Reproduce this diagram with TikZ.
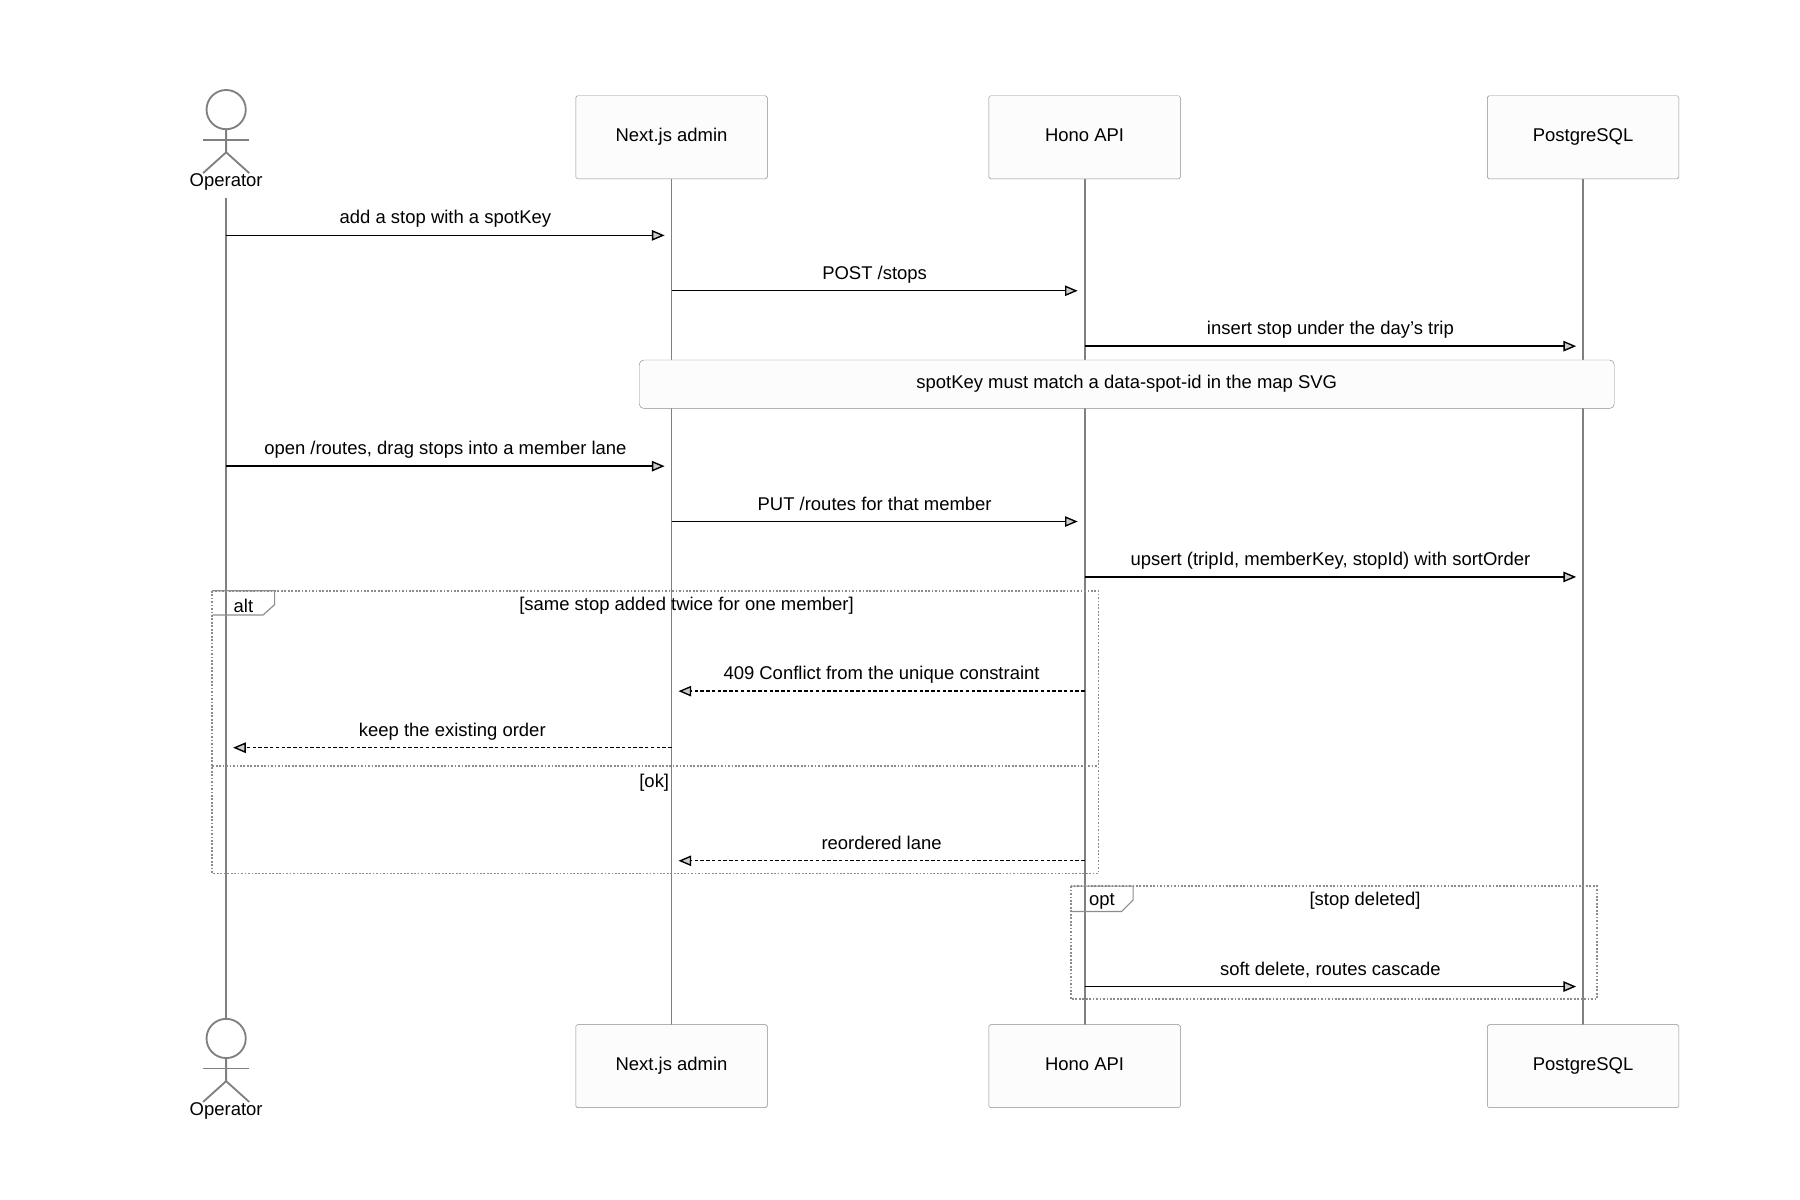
\documentclass[tikz,border=0pt]{standalone}
\usepackage{fontspec}
\setmainfont{Liberation Sans}
\usetikzlibrary{arrows.meta}
\tikzstyle{actbox}=[draw=black!45,fill=black!1,rounded corners=1.5pt,minimum width=166pt,minimum height=72pt,inner sep=0pt,text height=12pt,text depth=4pt]
\tikzstyle{life}=[draw=black!50,line width=1.6pt]
\tikzstyle{msg}=[black,line width=1.2pt,-{Triangle[open,length=11pt,width=9pt,fill=black!20]}]
\tikzstyle{rep}=[msg,dash pattern=on 3pt off 2pt]
\tikzstyle{frame}=[draw=black!45,line width=1.5pt,dash pattern=on 1.5pt off 1.5pt]
\tikzstyle{lbl}=[font=\fontsize{16}{19}\selectfont,inner sep=0pt]
% message: y, x from, x to, text, style
\newcommand{\msgline}[6]{
  \coordinate (#1s) at (#3,-#2);
  \coordinate (#1e) at (#4,-#2);
  \draw[#6] (#1s) -- (#1e);
  \node[lbl,anchor=base] (#1t) at ({(#3+#4)/2},{-#2+10}) {#5};
}
\newcommand{\stick}[2]{
  \node[circle,draw=black!50,line width=1.6pt,minimum size=34pt,inner sep=0pt] (#1h) at (196,-#2) {};
  \coordinate (#1w) at (196,-#2-37);
  \draw[black!50,line width=1.6pt] (#1h.south) -- (#1w) -- (176,-#2-55);
  \draw[black!50,line width=1.6pt] (#1w) -- (216,-#2-55);
  \draw[black!50,line width=1.6pt] (176,-#2-26) -- (216,-#2-26);
  \node[lbl,anchor=base] (#1l) at (196,-#2-67) {Operator};
}
\begin{document}
\begin{tikzpicture}[x=1pt,y=1pt]
  \useasboundingbox (0,0) rectangle (1560,-1040);

  % lifelines
  \foreach \n/\x in {nx/582,ho/940,pg/1372}{
    \coordinate (\n top) at (\x,-155);
    \coordinate (\n bot) at (\x,-888);
    \draw[life] (\n top) -- (\n bot);
  }
  \coordinate (optop) at (196,-172);
  \coordinate (opbot) at (196,-883);
  \draw[life] (optop) -- (opbot);

  % participants
  \foreach \n/\x/\t in {nx/582/Next.js admin,ho/940/Hono API,pg/1372/PostgreSQL}{
    \node[actbox,lbl] (\n A) at (\x,-119) {\t};
    \node[actbox,lbl] (\n B) at (\x,-924) {\t};
  }
  \stick{opA}{95}
  \stick{opB}{900}

  % messages
  \msgline{m1}{204}{196}{576}{add a stop with a spotKey}{msg}
  \msgline{m2}{252}{582}{934}{POST /stops}{msg}
  \msgline{m3}{300}{940}{1366}{insert stop under the day's trip}{msg}

  \node[actbox,lbl,minimum width=845pt,minimum height=42pt,rounded corners=4pt] (note) at (976.5,-333) {spotKey must match a data-spot-id in the map SVG};

  \msgline{m4}{404}{196}{576}{open /routes, drag stops into a member lane}{msg}
  \msgline{m5}{452}{582}{934}{PUT /routes for that member}{msg}
  \msgline{m6}{500}{940}{1366}{upsert (tripId, memberKey, stopId) with sortOrder}{msg}

  % alt
  \draw[frame] (184,-512) rectangle (952,-757);
  \draw[frame] (184,-664) -- (952,-664);
  \draw[draw=black!45,line width=1pt] (184,-512) -- (238,-512) -- (238,-524) -- (228,-533) -- (184,-533);
  \node[lbl] (alt) at (211,-525) {alt};
  \node[lbl] (altc) at (595,-525) {[same stop added twice for one member]};
  \node[lbl] (okc) at (567,-678) {[ok]};
  \msgline{m7}{599}{940}{588}{409 Conflict from the unique constraint}{rep}
  \msgline{m8}{648}{582}{202}{keep the existing order}{rep}
  \msgline{m9}{746}{940}{588}{reordered lane}{rep}

  % opt
  \draw[frame] (928,-768) rectangle (1384,-866);
  \draw[draw=black!45,line width=1pt] (928,-768) -- (982,-768) -- (982,-780) -- (972,-790) -- (928,-790);
  \node[lbl] (opt) at (955,-781) {opt};
  \node[lbl] (optc) at (1183,-781) {[stop deleted]};
  \msgline{m10}{855}{940}{1366}{soft delete, routes cascade}{msg}
\end{tikzpicture}
\end{document}
